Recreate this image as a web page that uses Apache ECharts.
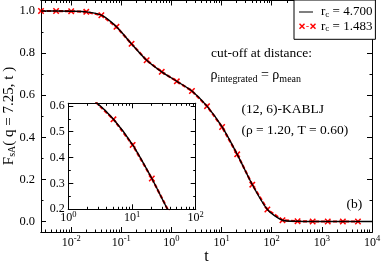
<!DOCTYPE html>
<html>
<head>
<meta charset="utf-8">
<script src="https://cdn.jsdelivr.net/npm/echarts@6/dist/echarts.min.js"></script>
<style>html,body{margin:0;padding:0;background:#fff}#c{width:382px;height:264px}</style>
</head>
<body>
<div id="c"></div>
<script>
// ---- data ----
const tValues = [0.0025, 0.005, 0.01, 0.02, 0.04, 0.08, 0.16, 0.32, 0.64, 1.28, 2.56, 5.12, 10.24, 20.48, 40.96, 81.92, 163.84, 327.68, 655.36, 1310.72, 2621.44, 5242.88];
const fsRc1483 = [1.0, 1.0, 0.999, 0.996, 0.980, 0.925, 0.844, 0.766, 0.711, 0.666, 0.620, 0.548, 0.449, 0.319, 0.175, 0.057, 0.006, 0.001, 0.0, 0.0, 0.0, 0.0];
const tBlack = [0.0025, 0.005, 0.01, 0.02, 0.04, 0.08, 0.16, 0.32, 0.64, 1.28, 2.56, 5.12, 10.24, 20.48, 40.96, 81.92, 163.84, 327.68, 655.36, 1310.72, 2621.44, 5242.88, 10000];
const fsRc4700 = [1.0, 1.0, 0.999, 0.996, 0.980, 0.925, 0.844, 0.766, 0.711, 0.666, 0.620, 0.548, 0.449, 0.319, 0.175, 0.057, 0.006, 0.001, 0.0, 0.0, 0.0, 0.0, 0.0];
const seriesNames = ['rc = 4.700', 'rc = 1.483'];
const xMainTicks = [0.01, 0.1, 1, 10, 100, 1000, 10000];
const yMainTicks = [0, 0.2, 0.4, 0.6, 0.8, 1.0];
const yMainMinor = [0.1, 0.3, 0.5, 0.7, 0.9];
const xInsetTicks = [1, 10, 100];
const yInsetTicks = [0.2, 0.3, 0.4, 0.5, 0.6];
const yInsetMinor = [0.25, 0.35, 0.45, 0.55];

const SERIF = 'Liberation Serif';
function logMinor(min, max) {
  const out = [];
  for (let e = -4; e <= 4; e++) {
    for (let k = 2; k <= 9; k++) {
      const v = k * Math.pow(10, e);
      if (v > min && v < max) out.push(v);
    }
  }
  return out;
}
const xMainMinor = logMinor(0.0025, 10000);
const xInsetMinor = logMinor(1, 100);

const supRich = {
  b: {fontFamily: SERIF, fontSize: 12, lineHeight: 12, color: '#000'},
  s: {fontFamily: SERIF, fontSize: 8.5, lineHeight: 8, padding: [0, 0, 8, 0], color: '#000'}
};
function pow10Label(v) {
  return '{b|10}{s|' + Math.round(Math.log10(v)) + '}';
}

function xAx(grid, pos, min, max, ticks, len, labels, margin) {
  return {
    type: 'log', gridIndex: grid, position: pos, min: min, max: max, logBase: 10,
    z: grid === 1 ? 10 : 0,
    axisLine: {show: true, onZero: false, lineStyle: {color: '#000', width: 1}},
    axisTick: {show: true, inside: true, length: len, customValues: ticks, lineStyle: {color: '#000', width: 1}},
    minorTick: {show: false},
    splitLine: {show: false},
    axisLabel: labels ? {show: true, customValues: ticks, margin: margin, formatter: pow10Label, rich: supRich, color: '#000'} : {show: false}
  };
}
function yAx(grid, pos, min, max, ticks, len, labels, margin, fs) {
  return {
    type: 'value', gridIndex: grid, position: pos, min: min, max: max,
    z: grid === 1 ? 10 : 0,
    axisLine: {show: true, onZero: false, lineStyle: {color: '#000', width: 1}},
    axisTick: {show: true, inside: true, length: len, customValues: ticks, lineStyle: {color: '#000', width: 1}},
    splitLine: {show: false},
    axisLabel: labels ? {show: true, customValues: ticks, margin: margin, fontFamily: SERIF, fontSize: fs, color: '#000',
      formatter: v => v.toFixed(1)} : {show: false}
  };
}

const xAxes = [
  xAx(0, 'bottom', 0.0025, 10000, xMainTicks, 5, true, 5),
  xAx(0, 'bottom', 0.0025, 10000, xMainMinor, 2.5, false),
  xAx(0, 'top', 0.0025, 10000, xMainTicks, 5, false),
  xAx(0, 'top', 0.0025, 10000, xMainMinor, 2.5, false),
  xAx(1, 'bottom', 1, 100, xInsetTicks, 5, true, 3),
  xAx(1, 'bottom', 1, 100, xInsetMinor, 2.5, false),
  xAx(1, 'top', 1, 100, xInsetTicks, 5, false),
  xAx(1, 'top', 1, 100, xInsetMinor, 2.5, false)
];
xAxes[0].name = 't';
xAxes[0].nameLocation = 'middle';
xAxes[0].nameGap = 17;
xAxes[0].nameMoveOverlap = false;
xAxes[0].nameTextStyle = {fontFamily: SERIF, fontSize: 16, color: '#000'};

// main y-axis labels are placed from the axis scale after the first layout (see below)
const yAxes = [
  yAx(0, 'left', -0.05, 1.05, yMainTicks, 5, false),
  yAx(0, 'left', -0.05, 1.05, yMainMinor, 2.5, false),
  yAx(0, 'right', -0.05, 1.05, yMainTicks, 5, false),
  yAx(0, 'right', -0.05, 1.05, yMainMinor, 2.5, false),
  yAx(1, 'left', 0.2, 0.61, yInsetTicks, 5, true, 3.5, 12),
  yAx(1, 'left', 0.2, 0.61, yInsetMinor, 2.5, false),
  yAx(1, 'right', 0.2, 0.61, yInsetTicks, 5, false),
  yAx(1, 'right', 0.2, 0.61, yInsetMinor, 2.5, false)
];

const X_PATH = 'path://M0,2L2,0L6,4L10,0L12,2L8,6L12,10L10,12L6,8L2,12L0,10L4,6Z';
const ICON_RED = 'path://M0,2L2,0L6,4L10,0L12,2L8,6L12,10L10,12L6,8L2,12L0,10L4,6Z' +
  'M14.5,5.2H19.5V6.8H14.5Z' +
  'M22,2L24,0L28,4L32,0L34,2L30,6L34,10L32,12L28,8L24,12L22,10L26,6Z';
const ICON_BLACK = 'path://M0,0h0.01v0.01zM34,12h-0.01v-0.01zM0,5H28V7.2H0Z';

function pairs(xs, ys) { return xs.map((x, i) => [x, ys[i]]); }

function blackSeries(xi, yi, w) {
  return {
    name: seriesNames[0], type: 'line', xAxisIndex: xi, yAxisIndex: yi,
    data: pairs(tBlack, fsRc4700), showSymbol: false, symbol: 'none', smooth: 0.25,
    lineStyle: {color: '#000', width: w}, itemStyle: {color: '#000'}, z: 4, silent: true, animation: false
  };
}
function redSeries(xi, yi, w) {
  return {
    name: seriesNames[1], type: 'line', xAxisIndex: xi, yAxisIndex: yi,
    data: pairs(tValues, fsRc1483), symbol: X_PATH, symbolSize: 6.5, showSymbol: true,
    lineStyle: {color: '#ff0000', width: w, type: [4, 2]}, itemStyle: {color: '#ff0000'}, z: 3, silent: true, animation: false
  };
}

const baseGraphics = [
  {id: 'ytitle', type: 'text', x: 9, y: 116, rotation: Math.PI / 2, z: 10, style: {
    text: '{a|F}{s|sA}{a|( q = 7.25, t )}',
    align: 'center', verticalAlign: 'middle',
    rich: {
      a: {fontFamily: SERIF, fontSize: 15, fill: '#000', lineHeight: 16},
      s: {fontFamily: SERIF, fontSize: 10, fill: '#000', lineHeight: 10, padding: [7, 0, 0, 0]}
    }
  }},
  {id: 'note1', type: 'text', left: 211, top: 46, z: 10, style: {text: 'cut-off at distance:', fontFamily: SERIF, fontSize: 13.5, fill: '#000'}},
  {id: 'note2', type: 'text', left: 210.5, top: 66, z: 10, style: {
    text: '{r|ρ}{s|integrated}{r| = ρ}{s|mean}',
    rich: {
      r: {fontFamily: SERIF, fontSize: 14, fill: '#000', lineHeight: 16},
      s: {fontFamily: SERIF, fontSize: 10, fill: '#000', lineHeight: 10, padding: [8, 0, 0, 0]}
    }
  }},
  {id: 'note3', type: 'text', left: 241.5, top: 102, z: 10, style: {text: '(12, 6)-KABLJ', fontFamily: SERIF, fontSize: 13.5, fill: '#000'}},
  {id: 'note4', type: 'text', left: 241.5, top: 123, z: 10, style: {text: '(ρ = 1.20, T = 0.60)', fontFamily: SERIF, fontSize: 13.5, fill: '#000'}},
  {id: 'note5', type: 'text', left: 346.5, top: 197.5, z: 10, style: {text: '(b)', fontFamily: SERIF, fontSize: 13.5, fill: '#000'}}
];

const chart = echarts.init(document.getElementById('c'), null, {renderer: 'canvas'});
chart.setOption({
  animation: false,
  backgroundColor: '#fff',
  grid: [
    {left: 41, right: 10, top: 0.5, bottom: 32, containLabel: false, outerBoundsMode: 'none'},
    {left: 68.3, right: 186.3, top: 103.3, bottom: 54.7, show: true, backgroundColor: '#fff', borderWidth: 0, z: 5, outerBoundsMode: 'none'}
  ],
  xAxis: xAxes,
  yAxis: yAxes,
  legend: {
    orient: 'vertical', left: 294, top: 0,
    padding: [5, 3, 6, 5], itemGap: 0.3, itemWidth: 17, itemHeight: 6,
    borderColor: '#000', borderWidth: 1, backgroundColor: '#fff',
    selectedMode: false,
    data: [{name: seriesNames[0], icon: ICON_BLACK}, {name: seriesNames[1], icon: ICON_RED}],
    formatter: name => '{a|r}{s|c}{a|' + name.slice(2) + '}',
    textStyle: {
      fontFamily: SERIF, fontSize: 13, color: '#000',
      rich: {
        a: {fontFamily: SERIF, fontSize: 13, color: '#000', lineHeight: 13},
        s: {fontFamily: SERIF, fontSize: 9, color: '#000', lineHeight: 8, padding: [5, 0, 0, 0]}
      }
    }
  },
  graphic: baseGraphics,
  series: [
    redSeries(0, 0, 2.2),
    blackSeries(0, 0, 1.4),
    Object.assign(redSeries(4, 4, 2.2), {z: 7}),
    Object.assign(blackSeries(4, 4, 1.4), {z: 8})
  ]
});

// Main y tick labels: positioned through the main y axis scale.
const axisX = chart.convertToPixel({xAxisIndex: 0}, 0.0025);
const yLabelGraphics = yMainTicks.map((v, i) => ({
  id: 'ylab' + i, type: 'text', z: 10,
  x: axisX - 6, y: chart.convertToPixel({yAxisIndex: 0}, v),
  style: {text: v.toFixed(1), align: 'right', verticalAlign: 'middle', fontFamily: SERIF, fontSize: 12.5, fill: '#000'}
}));
chart.setOption({graphic: baseGraphics.concat(yLabelGraphics)});
</script>
</body>
</html>
